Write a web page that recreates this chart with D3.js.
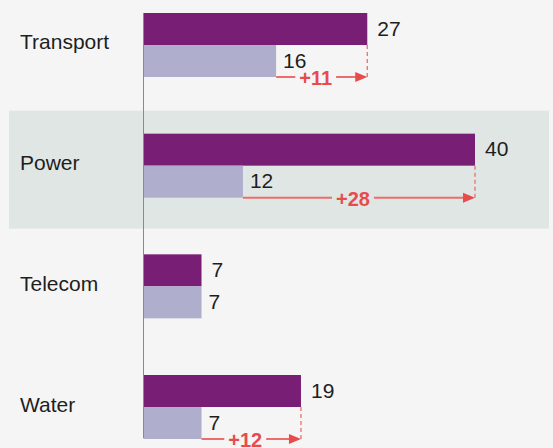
<!DOCTYPE html>
<html>
<head>
<meta charset="utf-8">
<script src="https://cdn.jsdelivr.net/npm/d3@7"></script>
<style>
  body { margin: 0; background: #f5f5f5; }
  svg { display: block; font-family: "Liberation Sans", Arial, sans-serif; }
</style>
</head>
<body>
<div id="chart"></div>
<script>
const categories = ["Transport", "Power", "Telecom", "Water"]
const current = [27, 40, 7, 19]
const previous = [16, 12, 7, 7]
const highlighted = "Power"

const gc = {
    width: 553,
    height: 448,
    axisX: 143.5,
    barH: 32,
    colors: {
        bg: "#f5f5f5",
        band: "#e0e6e4",
        dark: "#781e74",
        light: "#afaecd",
        axis: "#8a8a8a",
        text: "#1e1e1e",
        red: "#e84b4b",
        redLine: "#ec6e6c"
    },
    font: "21px",
    arrowLen: 12
}

const data = categories.map((c, i) => ({ name: c, cur: current[i], prev: previous[i] }))

const svg = d3.select("#chart").append("svg")
    .attr("width", gc.width)
    .attr("height", gc.height)

svg.append("rect")
    .attr("width", gc.width).attr("height", gc.height)
    .attr("fill", gc.colors.bg)

const x = d3.scaleLinear().domain([0, 40]).range([gc.axisX, 475])
const y = d3.scaleBand().domain(categories).range([13, 439]).paddingInner(1 - 64 / 120.67)

// highlighted row
svg.append("rect")
    .attr("x", 9)
    .attr("y", y(highlighted) - 23)
    .attr("width", 540)
    .attr("height", 118)
    .attr("fill", gc.colors.band)

const rows = svg.selectAll("g.row").data(data).join("g").attr("class", "row")

rows.append("text")
    .attr("x", 20)
    .attr("y", d => y(d.name) + y.bandwidth() / 2 - 3)
    .attr("dominant-baseline", "central")
    .style("font-size", gc.font)
    .attr("fill", gc.colors.text)
    .text(d => d.name)

rows.append("rect")
    .attr("x", x(0))
    .attr("y", d => y(d.name))
    .attr("width", d => x(d.cur) - x(0))
    .attr("height", gc.barH)
    .attr("fill", gc.colors.dark)

rows.append("rect")
    .attr("x", x(0))
    .attr("y", d => y(d.name) + gc.barH)
    .attr("width", d => x(d.prev) - x(0))
    .attr("height", gc.barH)
    .attr("fill", gc.colors.light)

rows.append("text")
    .attr("x", d => x(d.cur) + 10)
    .attr("y", d => y(d.name) + gc.barH / 2 - 1)
    .attr("dominant-baseline", "central")
    .style("font-size", gc.font)
    .attr("fill", gc.colors.text)
    .text(d => d.cur)

rows.append("text")
    .attr("x", d => x(d.prev) + 7)
    .attr("y", d => y(d.name) + gc.barH * 1.5 - 1)
    .attr("dominant-baseline", "central")
    .style("font-size", gc.font)
    .attr("fill", gc.colors.text)
    .text(d => d.prev)

// difference arrows
const diffs = rows.filter(d => d.cur !== d.prev)

diffs.each(function(d) {
    const g = d3.select(this)
    const x0 = x(d.prev), x1 = x(d.cur)
    const yy = y(d.name) + 2 * gc.barH
    const mid = (x0 + x1 - gc.arrowLen) / 2

    g.append("line")
        .attr("x1", x1).attr("x2", x1)
        .attr("y1", y(d.name) + gc.barH).attr("y2", yy)
        .attr("stroke", gc.colors.redLine)
        .attr("stroke-width", 1.3)
        .attr("stroke-dasharray", "4,3")

    const label = g.append("text")
        .attr("x", mid)
        .attr("y", yy + 1)
        .attr("text-anchor", "middle")
        .attr("dominant-baseline", "central")
        .style("font-size", "20px")
        .style("font-weight", "bold")
        .attr("fill", gc.colors.red)
        .text("+" + (d.cur - d.prev))

    const bbox = label.node().getBBox()
    const gap = 4

    g.append("line")
        .attr("x1", x0).attr("x2", bbox.x - gap)
        .attr("y1", yy).attr("y2", yy)
        .attr("stroke", gc.colors.redLine)
        .attr("stroke-width", 2)

    g.append("line")
        .attr("x1", bbox.x + bbox.width + gap).attr("x2", x1 - gc.arrowLen + 1)
        .attr("y1", yy).attr("y2", yy)
        .attr("stroke", gc.colors.redLine)
        .attr("stroke-width", 2)

    g.append("path")
        .attr("d", `M${x1},${yy} L${x1 - gc.arrowLen},${yy - 5} L${x1 - gc.arrowLen},${yy + 5} Z`)
        .attr("fill", gc.colors.red)
})

// axis line
svg.append("line")
    .attr("x1", gc.axisX).attr("x2", gc.axisX)
    .attr("y1", 13).attr("y2", 438)
    .attr("stroke", gc.colors.axis)
    .attr("stroke-width", 1)
</script>
</body>
</html>
